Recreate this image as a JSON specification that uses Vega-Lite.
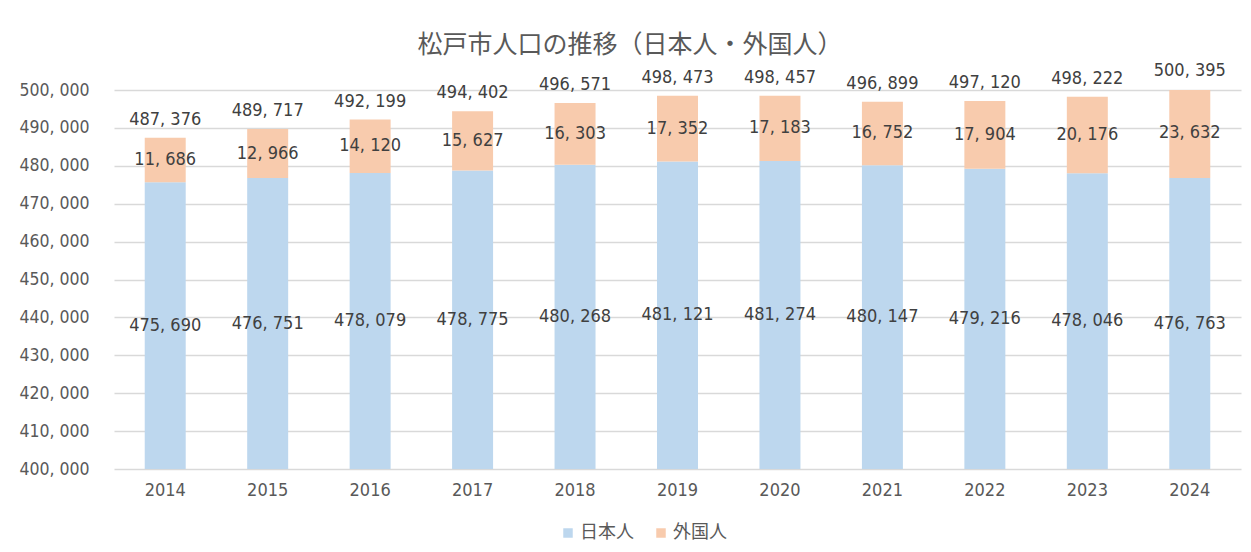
{
  "$schema": "https://vega.github.io/schema/vega-lite/v6.json",
  "width": 1127,
  "height": 379,
  "padding": {"left": 18, "top": 32, "right": 10, "bottom": 5},
  "background": "white",
  "title": {
    "text": "松戸市人口の推移（日本人・外国人）",
    "font": "Noto Sans CJK JP",
    "fontSize": 25,
    "fontWeight": "normal",
    "color": "#595959",
    "anchor": "middle",
    "frame": "bounds",
    "offset": 4
  },
  "data": {
    "values": [
      {"year": "2014", "jp": 475690, "fg": 11686, "total": 487376},
      {"year": "2015", "jp": 476751, "fg": 12966, "total": 489717},
      {"year": "2016", "jp": 478079, "fg": 14120, "total": 492199},
      {"year": "2017", "jp": 478775, "fg": 15627, "total": 494402},
      {"year": "2018", "jp": 480268, "fg": 16303, "total": 496571},
      {"year": "2019", "jp": 481121, "fg": 17352, "total": 498473},
      {"year": "2020", "jp": 481274, "fg": 17183, "total": 498457},
      {"year": "2021", "jp": 480147, "fg": 16752, "total": 496899},
      {"year": "2022", "jp": 479216, "fg": 17904, "total": 497120},
      {"year": "2023", "jp": 478046, "fg": 20176, "total": 498222},
      {"year": "2024", "jp": 476763, "fg": 23632, "total": 500395}
    ]
  },
  "transform": [
    {"calculate": "(400000 + datum.jp) / 2", "as": "jpMid"},
    {"calculate": "datum.jp + datum.fg / 2", "as": "fgMid"},
    {"calculate": "replace(format(datum.jp, ','), ',', ', ')", "as": "jpLabel"},
    {"calculate": "replace(format(datum.fg, ','), ',', ', ')", "as": "fgLabel"},
    {"calculate": "replace(format(datum.total, ','), ',', ', ')", "as": "totalLabel"}
  ],
  "encoding": {
    "x": {
      "field": "year",
      "type": "ordinal",
      "scale": {"paddingInner": 0.6, "paddingOuter": 0.3},
      "axis": {
        "title": null,
        "labelAngle": 0,
        "domain": false,
        "ticks": false,
        "labelPadding": 12,
        "labelFont": "DejaVu Sans Condensed",
        "labelFontSize": 18,
        "labelColor": "#595959"
      }
    },
    "y": {
      "field": "jp",
      "type": "quantitative",
      "scale": {"domain": [400000, 500000], "nice": false, "zero": false},
      "axis": {
        "title": null,
        "values": [400000, 410000, 420000, 430000, 440000, 450000, 460000, 470000, 480000, 490000, 500000],
        "labelExpr": "replace(format(datum.value, ','), ',', ', ')",
        "labelOverlap": false,
        "domain": false,
        "ticks": false,
        "grid": true,
        "labelPadding": 25,
        "labelFont": "DejaVu Sans Condensed",
        "labelFontSize": 17.5,
        "labelColor": "#595959",
        "gridColor": "#D9D9D9",
        "gridWidth": 1.5
      }
    }
  },
  "layer": [
    {
      "mark": {"type": "bar", "clip": true},
      "encoding": {
        "y2": {"datum": 400000},
        "color": {
          "datum": "日本人",
          "type": "nominal",
          "scale": {"domain": ["日本人", "外国人"], "range": ["#BDD7EE", "#F8CBAD"]},
          "legend": {
            "title": null,
            "orient": "none",
            "legendX": 445,
            "legendY": 434,
            "direction": "horizontal",
            "symbolType": "square",
            "symbolSize": 90,
            "symbolStrokeWidth": 0,
            "labelFont": "Noto Sans CJK JP",
            "labelFontSize": 18,
            "labelColor": "#595959",
            "columnPadding": 18,
            "labelOffset": 3
          }
        }
      }
    },
    {
      "mark": {"type": "bar", "clip": true},
      "encoding": {
        "y": {"field": "total", "type": "quantitative"},
        "y2": {"field": "jp"},
        "color": {"datum": "外国人", "type": "nominal"}
      }
    },
    {
      "mark": {"type": "text", "font": "DejaVu Sans Condensed", "fontSize": 18, "color": "#404040", "baseline": "middle"},
      "encoding": {
        "y": {"field": "jpMid", "type": "quantitative"},
        "text": {"field": "jpLabel"}
      }
    },
    {
      "mark": {"type": "text", "font": "DejaVu Sans Condensed", "fontSize": 18, "color": "#404040", "baseline": "middle"},
      "encoding": {
        "y": {"field": "fgMid", "type": "quantitative"},
        "text": {"field": "fgLabel"}
      }
    },
    {
      "mark": {"type": "text", "font": "DejaVu Sans Condensed", "fontSize": 18, "color": "#404040", "baseline": "alphabetic", "dy": -13},
      "encoding": {
        "y": {"field": "total", "type": "quantitative"},
        "text": {"field": "totalLabel"}
      }
    }
  ],
  "config": {
    "view": {"stroke": null},
    "axis": {"grid": false}
  }
}
